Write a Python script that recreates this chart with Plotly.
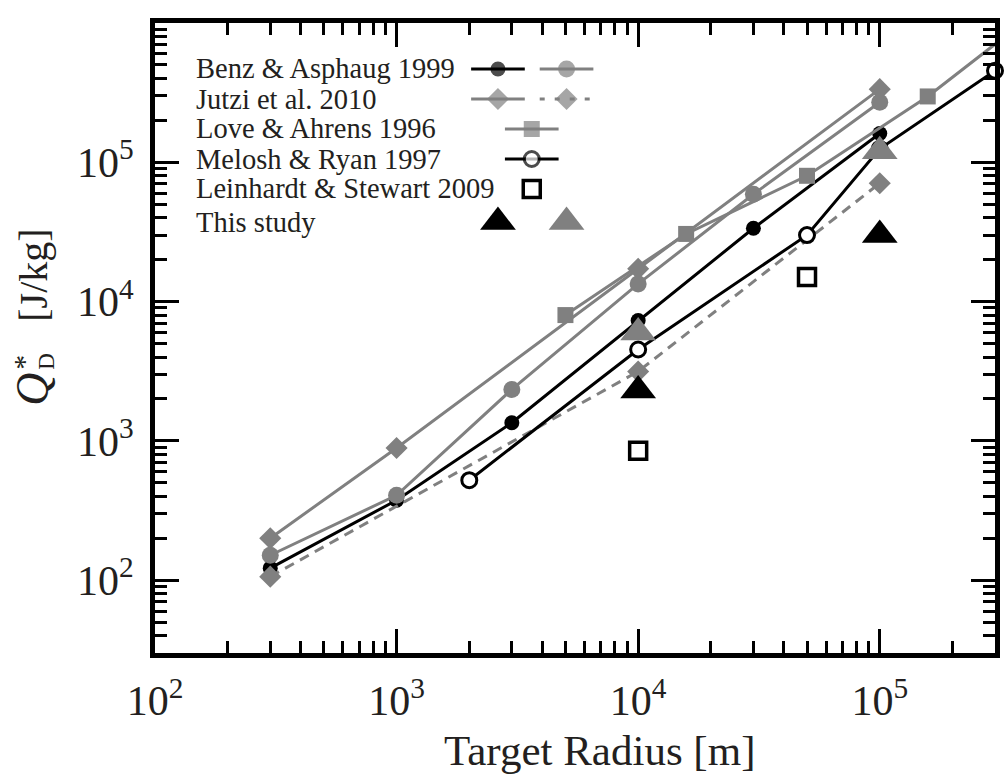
import numpy as np
import plotly.graph_objects as go

# ---------------- data: target radius [m] vs Q*_D [J/kg] ----------------
benz_basalt_r = [300, 1e3, 3e3, 1e4, 3e4, 1e5]
benz_basalt_q = [122, 375, 1350, 7300, 33600, 161000]

benz_ice_r = [300, 1e3, 3e3, 1e4, 3e4, 1e5]
benz_ice_q = [151, 407, 2340, 13400, 59000, 270000]

jutzi_solid_r = [300, 1e3, 1e4, 1e5]
jutzi_solid_q = [200, 890, 17200, 335000]

jutzi_dash_r = [300, 1e4, 1e5]
jutzi_dash_q = [106, 3150, 70700]

love_r = [5e3, 1.58e4, 5e4, 1.58e5, 5e5]
love_q = [8000, 30600, 80000, 297000, 1.4e6]

melosh_r = [2e3, 1e4, 5e4, 1e5, 3e5]
melosh_q = [522, 4530, 30000, 125000, 455000]

leinhardt_r = [1e4, 5e4]
leinhardt_q = [850, 15000]

study_black_r = [1e4, 1e5]
study_black_q = [2300, 30000]
study_grey_r = [1e4, 1e5]
study_grey_q = [6000, 120000]

x_ticks = [1e2, 1e3, 1e4, 1e5]
x_tick_text = ["10<sup>2</sup>", "10<sup>3</sup>", "10<sup>4</sup>", "10<sup>5</sup>"]
y_ticks = [1e2, 1e3, 1e4, 1e5, 1e6]
y_tick_text = ["10<sup>2</sup>", "10<sup>3</sup>", "10<sup>4</sup>",
               "10<sup>5</sup>", "10<sup>6</sup>"]

legend_labels = ["Benz & Asphaug 1999", "Jutzi et al. 2010", "Love & Ahrens 1996",
                 "Melosh & Ryan 1997", "Leinhardt & Stewart 2009", "This study"]

# ---------------- styling ----------------
BLACK = "#000000"
GREY = "#808080"
TEXT = "#231f20"
FONT = "Liberation Serif, Times New Roman, serif"
LW = 3

# plot-area geometry in pixels
W, H = 1007, 778
L, R, T, B = 155, 1000, 23, 653


def px(xp):
    return (xp - L) / (R - L)


def py(yp):
    return (B - yp) / (B - T)


fig = go.Figure()


def series(x, y, color, symbol, size, dash="solid", mode="lines+markers",
           fill=None, mline=0, clip=True):
    fig.add_trace(go.Scatter(
        x=x, y=y, mode=mode, cliponaxis=clip, showlegend=False,
        line=dict(color=color, width=LW, dash=dash),
        marker=dict(symbol=symbol, size=size, color=fill if fill else color,
                    line=dict(color=color, width=mline)),
    ))


series(benz_basalt_r, benz_basalt_q, BLACK, "circle", 15)
series(benz_ice_r, benz_ice_q, GREY, "circle", 17)
series(jutzi_solid_r, jutzi_solid_q, GREY, "diamond", 17)
series(jutzi_dash_r, jutzi_dash_q, GREY, "diamond", 17, dash="10px,7px")
series(love_r, love_q, GREY, "square", 16)
series(melosh_r, melosh_q, BLACK, "circle", 15, fill="white", mline=3, clip=False)
series(leinhardt_r, leinhardt_q, BLACK, "square", 17, mode="markers",
       fill="white", mline=3.5)
series(study_black_r, study_black_q, BLACK, "triangle-up", 31, mode="markers")
series(study_grey_r, study_grey_q, GREY, "triangle-up", 31, mode="markers")

# ---------------- legend glyphs on a hidden pixel-unit overlay ----------------
row_y = [69, 99, 129, 159, 189, 222]
c1, c2, c3 = 500, 569, 534


def glyph(xc, yc, color, symbol, size, half=27, line=True, dash="solid",
          fill=None, mline=0):
    xs = [xc - half, xc, xc + half] if line else [xc]
    ys = [yc] * len(xs)
    fig.add_trace(go.Scatter(
        x=xs, y=ys, xaxis="x2", yaxis="y2", showlegend=False,
        mode="lines+markers" if line else "markers", cliponaxis=False,
        line=dict(color=color, width=LW, dash=dash),
        marker=dict(symbol=symbol, size=[0, size, 0] if line else size,
                    color=fill if fill else color,
                    line=dict(color=color, width=[0, mline, 0] if line else mline)),
    ))


glyph(c1, row_y[0], BLACK, "circle", 15)
glyph(c2, row_y[0], GREY, "circle", 17)
glyph(c1, row_y[1], GREY, "diamond", 17)
glyph(c2, row_y[1], GREY, "diamond", 17, dash="5px,10px")
glyph(c3, row_y[2], GREY, "square", 16)
glyph(c3, row_y[3], BLACK, "circle", 15, fill="white", mline=3)
glyph(c3, row_y[4], BLACK, "square", 17, line=False, fill="white", mline=3.5)
glyph(c1, row_y[5], BLACK, "triangle-up", 31, line=False)
glyph(c2, row_y[5], GREY, "triangle-up", 31, line=False)

annotations = []
for lab, yy in zip(legend_labels, row_y):
    annotations.append(dict(
        text=lab, x=px(194), y=py(yy), xref="paper", yref="paper",
        xanchor="left", yanchor="middle", showarrow=False,
        font=dict(family=FONT, size=28.5, color=TEXT)))

# x-axis title
annotations.append(dict(
    text="Target Radius [m]", x=px(602), y=py(751), xref="paper", yref="paper",
    xanchor="center", yanchor="middle", showarrow=False,
    font=dict(family=FONT, size=43, color=TEXT)))

# y-axis title: Q with stacked * and D, then units
annotations += [
    dict(text="[J/kg]", x=px(32), y=py(275), textangle=-90),
    dict(text="<i>Q</i>", x=px(32), y=py(389), textangle=-90,
         font=dict(family=FONT, size=46, color=TEXT)),
    dict(text="*", x=px(22), y=py(362), textangle=-90,
         font=dict(family=FONT, size=30, color=TEXT)),
    dict(text="D", x=px(45), y=py(361), textangle=-90,
         font=dict(family=FONT, size=23, color=TEXT)),
]
for a in annotations[-4:]:
    a.update(xref="paper", yref="paper", xanchor="center", yanchor="middle",
             showarrow=False)
    a.setdefault("font", dict(family=FONT, size=40, color=TEXT))

x_minor = [m * 10 ** e for e in range(2, 6) for m in range(2, 10) if m * 10 ** e <= 3e5]
y_minor = [m * 10 ** e for e in range(1, 6) for m in range(2, 10) if m * 10 ** e >= 30]

axis_common = dict(
    type="log", showgrid=False, zeroline=False,
    showline=True, linewidth=5, linecolor=BLACK, mirror="allticks",
    ticks="inside", ticklen=24, tickwidth=3, tickcolor=BLACK,
    tickfont=dict(family=FONT, size=42, color=TEXT),
)

fig.update_layout(
    width=W, height=H,
    margin=dict(l=L, r=W - R, t=T, b=H - B),
    paper_bgcolor="white", plot_bgcolor="white",
    xaxis=dict(range=[2, np.log10(3e5)], tickvals=x_ticks, ticktext=x_tick_text,
               minor=dict(ticks="inside", ticklen=12, tickwidth=3, tickcolor=BLACK,
                          tickvals=x_minor),
               ticklabelstandoff=7, **axis_common),
    yaxis=dict(range=[np.log10(30), 6], tickvals=y_ticks, ticktext=y_tick_text,
               minor=dict(ticks="inside", ticklen=12, tickwidth=3, tickcolor=BLACK,
                          tickvals=y_minor),
               ticklabelstandoff=8, **axis_common),
    xaxis2=dict(range=[L, R], overlaying="x", visible=False, fixedrange=True),
    yaxis2=dict(range=[B, T], overlaying="y", visible=False, fixedrange=True),
    annotations=annotations,
    showlegend=False,
)

fig.write_html("out.html")
